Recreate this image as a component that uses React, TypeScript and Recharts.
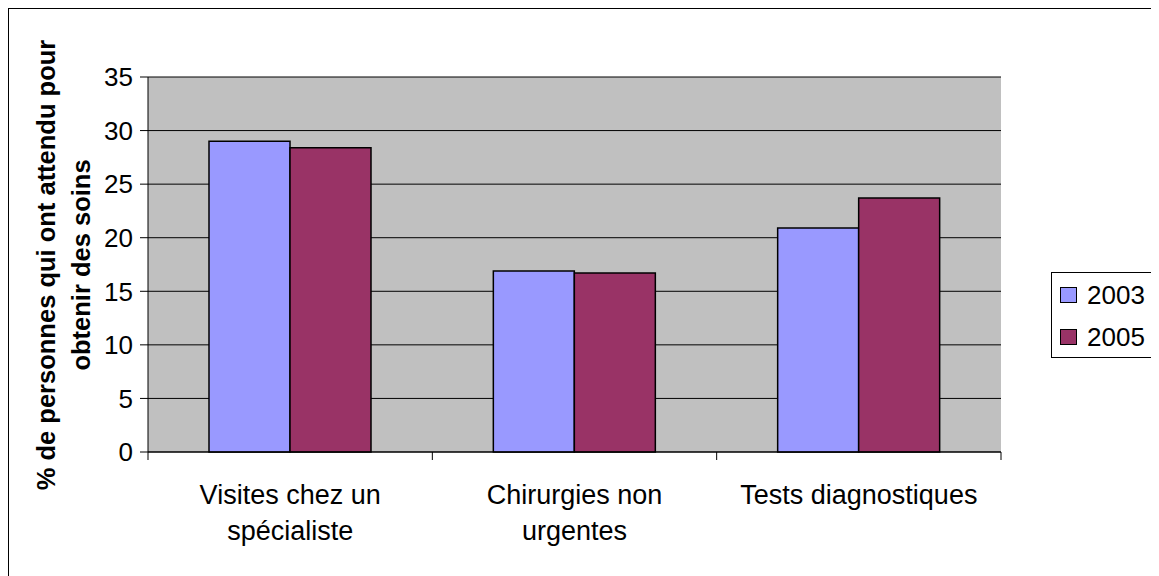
import { BarChart, Bar, XAxis, YAxis, CartesianGrid } from "recharts";

const categories = [
  ["Visites chez un", "spécialiste"],
  ["Chirurgies non", "urgentes"],
  ["Tests diagnostiques"],
];
const values2003 = [29.0, 16.9, 20.9];
const values2005 = [28.4, 16.7, 23.7];
const yTicks = [0, 5, 10, 15, 20, 25, 30, 35];
const seriesNames = ["2003", "2005"];
const seriesColors = ["#9999FF", "#993366"];

const FONT = '"Liberation Sans", Arial, sans-serif';

const data = categories.map((c, i) => ({
  name: c.join(" "),
  lines: c,
  "2003": values2003[i],
  "2005": values2005[i],
}));

// eslint-disable-next-line @typescript-eslint/no-explicit-any
function CategoryTick(props: any) {
  const { x, y, payload, index, visibleTicksCount } = props;
  const half = payload?.offset ?? 142;
  const lines: string[] = data[index]?.lines ?? [String(payload.value)];
  return (
    <g>
      <line x1={x - half} y1={y} x2={x - half} y2={y + 8} stroke="#000" />
      {index === visibleTicksCount - 1 && (
        <line x1={x + half} y1={y} x2={x + half} y2={y + 8} stroke="#000" />
      )}
      <text x={x} y={y + 52} textAnchor="middle" fontSize={27} fontFamily={FONT} fill="#000">
        {lines.map((l, i) => (
          <tspan key={i} x={x} dy={i === 0 ? 0 : 36}>{l}</tspan>
        ))}
      </text>
    </g>
  );
}

function LegendBox() {
  return (
    <div
      style={{
        position: "absolute",
        left: 1043,
        top: 264,
        width: 101,
        height: 86,
        border: "1px solid #000",
        boxSizing: "border-box",
        background: "#fff",
        fontFamily: FONT,
        fontSize: 26,
      }}
    >
      {seriesNames.map((s, i) => (
        <div key={s}>
          <div
            style={{
              position: "absolute",
              left: 8,
              top: 14 + i * 42,
              width: 17,
              height: 16,
              background: seriesColors[i],
              border: "1px solid #000",
              boxSizing: "border-box",
            }}
          />
          <div style={{ position: "absolute", left: 35, top: 7 + i * 42, lineHeight: "30px" }}>{s}</div>
        </div>
      ))}
    </div>
  );
}

export default function App() {
  return (
    <div style={{ position: "relative", width: 1151, height: 568 }}>
      <style>{"body{overflow:hidden}"}</style>
      <div
        style={{
          position: "absolute",
          left: 0,
          top: 0,
          width: 1151,
          height: 568,
          borderLeft: "1px solid #000",
          borderTop: "1px solid #000",
          boxSizing: "border-box",
        }}
      />
      <div style={{ position: "absolute", left: 0, top: 0 }}>
        <BarChart
          width={1151}
          height={568}
          data={data}
          margin={{ top: 69, right: 158, bottom: 0, left: 0 }}
          barCategoryGap={61}
          barGap={0}
        >
          <CartesianGrid vertical={false} stroke="#000" fill="#C0C0C0" fillOpacity={1} />
          <XAxis
            dataKey="name"
            height={124}
            tickSize={0}
            tickMargin={0}
            tick={<CategoryTick />}
            axisLine={{ stroke: "#000" }}
            interval={0}
          />
          <YAxis
            width={140}
            domain={[0, 35]}
            ticks={yTicks}
            interval={0}
            tickSize={8}
            tickMargin={7}
            axisLine={{ stroke: "#000" }}
            tickLine={{ stroke: "#000" }}
            tick={{ fontSize: 26, fill: "#000", fontFamily: FONT }}
          />
          <YAxis
            yAxisId="r"
            orientation="right"
            width={0}
            tick={false}
            tickLine={false}
            axisLine={{ stroke: "#808080" }}
          />
          {seriesNames.map((s, i) => (
            <Bar
              key={s}
              dataKey={s}
              fill={seriesColors[i]}
              stroke="#000"
              strokeWidth={1.5}
              isAnimationActive={false}
            />
          ))}
        </BarChart>
      </div>
      <LegendBox />
      <svg
        width={140}
        height={568}
        style={{ position: "absolute", left: 0, top: 0, pointerEvents: "none" }}
      >
        <text
          transform="rotate(-90, 47, 257)"
          x={47}
          y={257}
          textAnchor="middle"
          fontSize={25.5}
          fontWeight="bold"
          fontFamily={FONT}
          fill="#000"
        >
          % de personnes qui ont attendu pour
        </text>
        <text
          transform="rotate(-90, 82, 257)"
          x={82}
          y={257}
          textAnchor="middle"
          fontSize={25.5}
          fontWeight="bold"
          fontFamily={FONT}
          fill="#000"
        >
          obtenir des soins
        </text>
      </svg>
    </div>
  );
}
